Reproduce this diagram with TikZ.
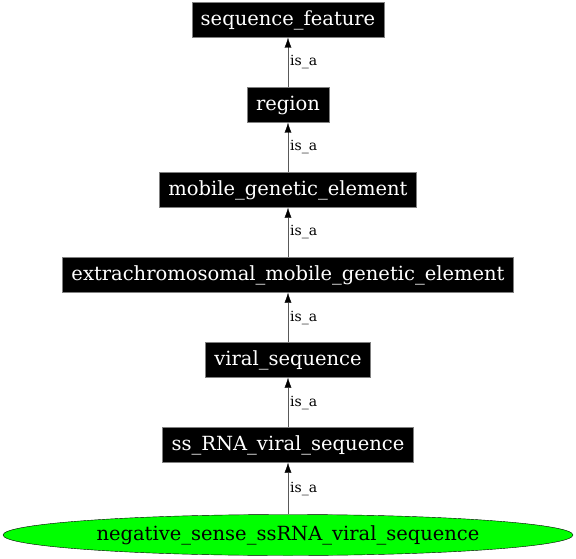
\documentclass[tikz,border=0pt]{standalone}
\usepackage{fontspec}
\setmainfont{DejaVu Serif}
\usetikzlibrary{shapes.geometric,arrows.meta}
\begin{document}
\begin{tikzpicture}[x=1pt, y=-1pt]
      \tikzset{
	  term/.style={rectangle, fill=black, draw=gray, text=white, font=\fontsize{19.5}{22}\selectfont, inner xsep=9pt, inner ysep=0pt, minimum height=35pt},
	  leaf/.style={ellipse, fill=green, draw=black, font=\fontsize{19.5}{22}\selectfont, minimum width=570pt, minimum height=41pt, inner sep=0pt},
	  isa/.style={draw=gray!70!black, -{Latex[length=10pt,width=7pt,color=black]}},
	  isalabel/.style={font=\fontsize{14}{16}\selectfont, right, inner sep=2pt}
      }
      \useasboundingbox (0,0) rectangle (576,559);
      \node at (288, 20) [term] (feature) {sequence\_feature};
      \node at (288,105) [term] (region) {region};
      \node at (288,190) [term] (mobile) {mobile\_genetic\_element};
      \node at (288,275) [term] (extra) {extrachromosomal\_mobile\_genetic\_element};
      \node at (288,360) [term] (viral) {viral\_sequence};
      \node at (288,445) [term] (ssrna) {ss\_RNA\_viral\_sequence};
      \node at (288,535) [leaf] (negative) {negative\_sense\_ssRNA\_viral\_sequence};

      \draw [isa] (region) -- node [isalabel] {is\_a} (feature);
      \draw [isa] (mobile) -- node [isalabel] {is\_a} (region);
      \draw [isa] (extra) -- node [isalabel] {is\_a} (mobile);
      \draw [isa] (viral) -- node [isalabel] {is\_a} (extra);
      \draw [isa] (ssrna) -- node [isalabel] {is\_a} (viral);
      \draw [isa] (negative) -- node [isalabel] {is\_a} (ssrna);
\end{tikzpicture}
\end{document}
